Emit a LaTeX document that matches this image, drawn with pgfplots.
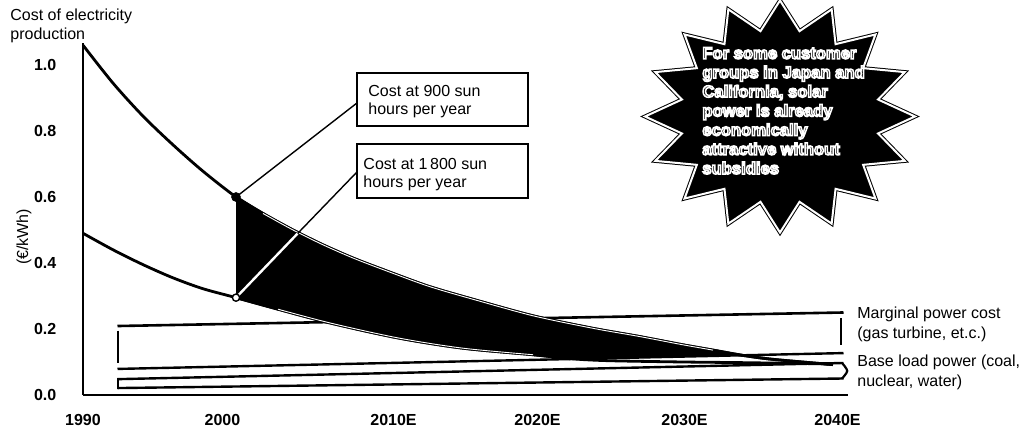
\documentclass[border=0pt]{standalone}
\usepackage{fontspec}
\setmainfont{Liberation Sans}
\usepackage{pgfplots}
\usepackage{pgfplotstable}
\pgfplotsset{compat=1.18}

% outlined text: glyphs stroked only, in the current colour
\newcommand{\outlinetext}[1]{\special{pdf:literal direct 1 Tr 0.75 w}#1\special{pdf:literal direct 0 Tr}}

% Cost per kWh of solar power at 900 sun hours per year
\pgfplotstableread{
year cost
1990   1.060
1992   0.945
1994   0.845
1996   0.758
1998   0.678
2000.2 0.600
2002   0.550
2004   0.500
2006   0.455
2008   0.415
2010   0.380
2013   0.330
2016   0.290
2020   0.240
2024   0.202
2027   0.178
2030   0.152
2032   0.136
2034   0.120
2036   0.108
2040   0.092
}\sunlow

% Cost per kWh of solar power at 1 800 sun hours per year
\pgfplotstableread{
year cost
1990   0.490
1992   0.440
1994   0.395
1996   0.355
1998   0.322
2000.2 0.295
2003   0.260
2006.5 0.218
2011   0.173
2015.3 0.142
2020   0.122
2022.5 0.110
2025   0.104
2030   0.100
2034   0.098
2040   0.094
}\sunhigh

\begin{document}
\begin{tikzpicture}[x=1pt,y=1pt,font=\fontsize{8}{9.5}\selectfont]
\begin{axis}[
  at={(41.5pt,19pt)}, anchor=south west,
  scale only axis, width=382.5pt, height=175.9pt,
  xmin=1990, xmax=2041, ymin=0, ymax=1.066,
  axis x line*=bottom, axis y line*=left,
  axis line style={line width=1pt, -},
  major tick length=0pt,
  xtick={1990,1999.3,2010.7,2020.3,2030.1,2040.3},
  xticklabels={1990,2000,2010E,2020E,2030E,2040E},
  ytick={0,0.2,0.4,0.6,0.8,1.0},
  yticklabels={0.0,0.2,0.4,0.6,0.8,1.0},
  tick label style={font=\bfseries\fontsize{8}{9.5}\selectfont},
  xticklabel style={yshift=-6pt},
  yticklabel style={xshift=-9.8pt},
  clip=false,
]
% marginal power cost band (gas turbine etc.)
\addplot[line width=1.3pt] coordinates {(1992.3,0.209) (2040.7,0.250)};
\addplot[line width=1.2pt] coordinates {(1992.3,0.079) (2040.7,0.127)};
\addplot[line width=1.1pt] coordinates {(1992.35,0.195) (1992.35,0.098)};
\addplot[line width=1.1pt] coordinates {(2040.55,0.233) (2040.55,0.150)};
% base load power band (coal, nuclear, water)
\addplot[line width=1.2pt] coordinates {(1992.3,0.048) (2040.7,0.097)};
\addplot[line width=1.2pt] coordinates {(1992.3,0.021) (2040.7,0.050)};
\addplot[line width=1.1pt] coordinates {(1992.35,0.050) (1992.35,0.019)};
\addplot[line width=1.1pt, smooth] coordinates {(2040.6,0.097) (2040.95,0.073) (2040.6,0.050)};

% solar cost curves below the shaded gap
\addplot[line width=1.4pt, smooth] table {\sunlow};
\addplot[line width=1.4pt, smooth] table {\sunhigh};
% the gap between solar cost and the marginal power cost, 2000 to 2034
\addplot[fill=black, draw=none] coordinates {
  (2000.2,0.600) (2002,0.550) (2004,0.500) (2006,0.455) (2008,0.415) (2010,0.380)
  (2013,0.330) (2016,0.290) (2020,0.240) (2024,0.202) (2027,0.178) (2030,0.152)
  (2032,0.136) (2034,0.120)
  (2022.3,0.1088) (2020,0.122) (2015.3,0.142) (2011,0.173)
  (2006.5,0.218) (2003,0.260) (2000.2,0.295)} -- cycle;
% curve edges over the gap
\addplot[line width=1.4pt, smooth, skip coords between index={0}{5}] table {\sunlow};
\addplot[line width=1.4pt, smooth, skip coords between index={0}{5}, skip coords between index={12}{16}] table {\sunhigh};
\addplot[white, line width=0.45pt, smooth, skip coords between index={0}{6}, skip coords between index={18}{21}] table {\sunlow};
\addplot[white, line width=0.45pt, smooth, skip coords between index={0}{6}, skip coords between index={11}{16}] table {\sunhigh};

% callout boxes
\draw[line width=0.7pt] (axis cs:2008.27,0.885) -- (axis cs:2000.2,0.600);
\draw[line width=0.7pt] (axis cs:2008.27,0.676) -- (axis cs:2004.3,0.489);
\draw[line width=0.6pt, double=white, double distance=1.2pt] (axis cs:2000.2,0.295) -- (axis cs:2004.3,0.489);
\draw[line width=1pt, fill=white] (axis cs:2008.27,0.976) rectangle (axis cs:2019.67,0.815);
\draw[line width=1pt, fill=white] (axis cs:2008.27,0.761) rectangle (axis cs:2019.67,0.597);
\node[anchor=north west, inner sep=0pt, align=left, font=\fontsize{8}{9}\selectfont]
  at (axis cs:2009.0,0.939) {Cost at 900 sun\\hours per year};
\node[anchor=north west, inner sep=0pt, align=left, font=\fontsize{8}{9}\selectfont]
  at (axis cs:2008.67,0.718) {Cost at 1\,800 sun\\hours per year};

\addplot[only marks, mark=*, mark size=2.2pt, black] coordinates {(2000.2,0.600)};
\addplot[only marks, mark=*, mark size=1.8pt, mark options={fill=white, draw=black, line width=0.7pt}] coordinates {(2000.2,0.295)};
\end{axis}

% titles and side labels
\node[anchor=north west, inner sep=0pt, align=left] at (5,212) {Cost of electricity\\production};
\node[rotate=90, inner sep=0pt] at (12,98) {(€/kWh)};
\node[anchor=north west, inner sep=0pt, align=left, font=\fontsize{8}{10}\selectfont] at (428.5,63)
  {Marginal power cost\\(gas turbine, et.c.)};
\node[anchor=north west, inner sep=0pt, align=left, font=\fontsize{8}{10}\selectfont] at (428.5,39)
  {Base load power (coal,\\nuclear, water)};

% starburst
\begin{scope}[shift={(390,158.25)}]
\draw[fill=black, line width=0.5pt, double=white, double distance=1pt]
  (90:67.5 and 58) \foreach \i in {0,...,15} { -- ({101.25+22.5*\i}:50 and 43.5) -- ({112.5+22.5*\i}:67.5 and 58) } -- cycle;
\end{scope}
\node[anchor=north west, inner sep=0pt, align=left, text=white, font=\bfseries\fontsize{8.3}{9.6}\selectfont] at (351,193)
  {\outlinetext{For some customer}\\\outlinetext{groups in Japan and}\\\outlinetext{California, solar}\\
   \outlinetext{power is already}\\\outlinetext{economically}\\\outlinetext{attractive without}\\\outlinetext{subsidies}};

\pgfresetboundingbox
\path (0,0) rectangle (512,216.5);
\end{tikzpicture}
\end{document}
